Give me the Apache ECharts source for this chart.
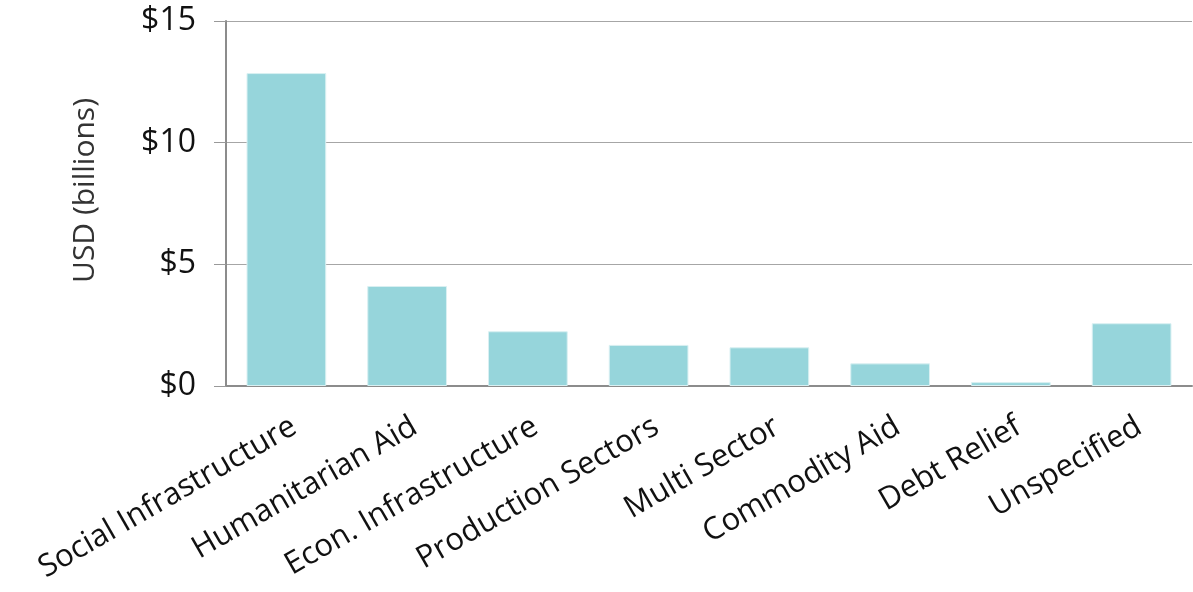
<!DOCTYPE html>
<html><head><meta charset="utf-8">
<script src="https://cdn.jsdelivr.net/npm/echarts@6/dist/echarts.min.js"></script>
<style>html,body{margin:0;padding:0;background:#fff}#c{width:1193px;height:592px}</style>
</head><body><div id="c"></div>
<script>
const categories = ["Social Infrastructure","Humanitarian Aid","Econ. Infrastructure","Production Sectors","Multi Sector","Commodity Aid","Debt Relief","Unspecified"];
const values = [12.86, 4.11, 2.25, 1.69, 1.59, 0.93, 0.16, 2.58];
const yTicks = [0, 5, 10, 15];
const yAxisTitle = "USD (billions)";

const chart = echarts.init(document.getElementById('c'), null, {renderer:'canvas'});
const font = "Open Sans";
chart.setOption({
  animation:false,
  grid:{left:226, right:1, top:21, bottom:206, containLabel:false, outerBoundsMode:'none'},
  xAxis:{type:'category', data:categories,
    axisLine:{lineStyle:{color:'#8c8c8c', width:2}},
    axisTick:{show:false},
    axisLabel:{rotate:30, interval:0, margin:25, verticalAlign:'top', color:'#111', fontFamily:font, fontSize:31}},
  yAxis:{type:'value', min:yTicks[0], max:yTicks[yTicks.length-1], interval:5,
    name:yAxisTitle, nameLocation:'middle', nameRotate:90, nameGap:126,
    nameTextStyle:{color:'#333', fontFamily:font, fontSize:30, padding:[0,0,0,26]},
    axisLine:{show:true, lineStyle:{color:'#8c8c8c', width:2}},
    axisTick:{show:true, length:12, lineStyle:{color:'#999'}},
    splitLine:{lineStyle:{color:'#a6a6a6', width:1}},
    axisLabel:{margin:30, color:'#111', fontFamily:font, fontSize:32, formatter:v=>'$'+v}},
  series:[{type:'bar', data:values, barCategoryGap:'34%',
    itemStyle:{color:'#96d5db', borderColor:'#d9f0f2', borderWidth:1}}]
});
</script></body></html>
